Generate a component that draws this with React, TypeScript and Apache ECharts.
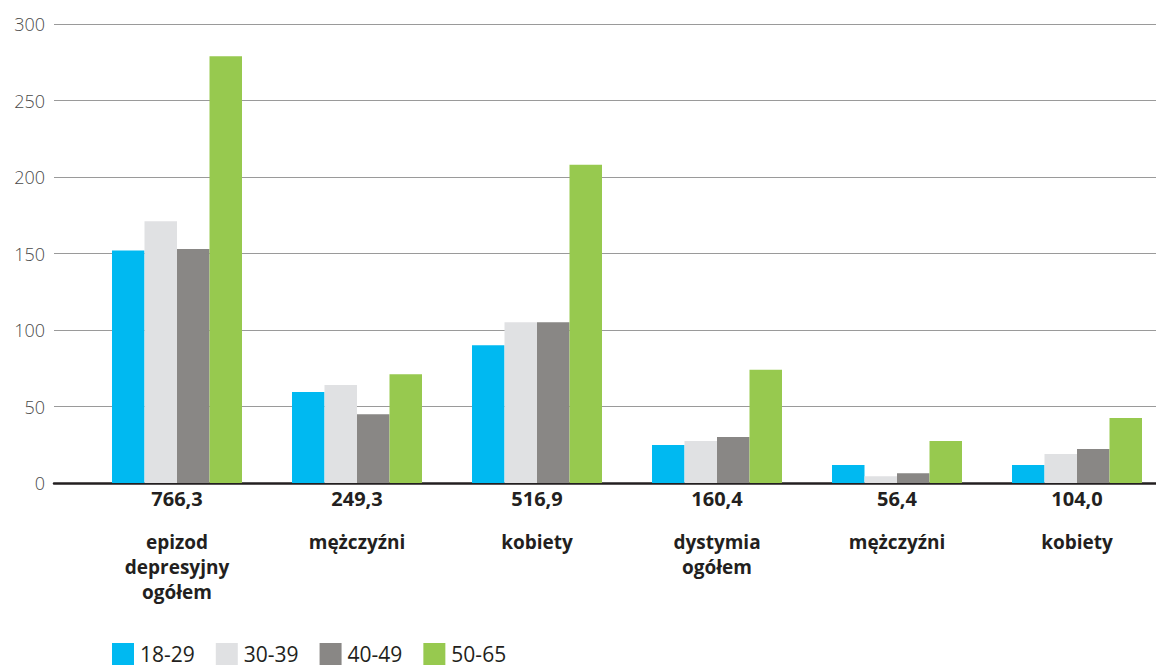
import React, { useEffect, useRef } from "react";
import * as echarts from "echarts";

const categoryTotals = ["766,3", "249,3", "516,9", "160,4", "56,4", "104,0"];
const categoryNames = [
  "epizod\ndepresyjny\nogółem",
  "mężczyźni",
  "kobiety",
  "dystymia\nogółem",
  "mężczyźni",
  "kobiety",
];
const seriesNames = ["18-29", "30-39", "40-49", "50-65"];
const values1829 = [152, 59.5, 90, 24.8, 11.8, 11.8];
const values3039 = [171, 64, 105, 27.5, 4.4, 19];
const values4049 = [153, 45, 105, 30, 6.3, 22.2];
const values5065 = [279, 71, 208, 74, 27.5, 42.5];
const yTicks = { min: 0, max: 300, interval: 50 };
const colors = ["#00B9F1", "#E0E1E3", "#898785", "#97C94F"];

export default function App() {
  const ref = useRef<HTMLDivElement>(null);
  useEffect(() => {
    document.body.style.overflow = "hidden";
    if (!ref.current) return;
    const chart = echarts.init(ref.current, undefined, { renderer: "svg" });
    const labels = categoryTotals.map((t, i) => {
      const lines = categoryNames[i].split("\n").map((l) => `{n|${l}}`).join("\n");
      return `{v|${t}}\n{s| }\n${lines}`;
    });
    const allValues = [values1829, values3039, values4049, values5065];
    chart.setOption({
      animation: false,
      backgroundColor: "#ffffff",
      textStyle: { fontFamily: "Open Sans" },
      legend: {
        left: 112,
        top: 643,
        padding: 0,
        itemWidth: 22,
        itemHeight: 22,
        itemGap: 21,
        icon: "rect",
        textStyle: { fontSize: 21, lineHeight: 21, color: "#231F20", fontFamily: "Open Sans", padding: [0, 0, 0, 1] },
        data: seriesNames,
      },
      grid: [
        { left: 54, width: 1102, top: 24, height: 459 },
        { left: 87, width: 1080, top: 24, height: 459 },
      ],
      xAxis: [
        {
          gridIndex: 0,
          type: "value",
          min: 0,
          max: 1,
          axisLine: { show: true, lineStyle: { color: "#231F20", width: 2.5 } },
          axisTick: { show: false },
          axisLabel: { show: false },
          splitLine: { show: false },
        },
        {
          gridIndex: 1,
          type: "category",
          data: labels,
          axisLine: { show: false },
          axisTick: { show: false },
          axisLabel: {
            margin: 5,
            interval: 0,
            color: "#231F20",
            rich: {
              v: { fontSize: 20, fontWeight: "bold", lineHeight: 20, color: "#231F20", fontFamily: "Open Sans" },
              s: { fontSize: 10, lineHeight: 21 },
              n: { fontSize: 19, fontWeight: "bold", lineHeight: 25, color: "#231F20", fontFamily: "Open Sans" },
            },
          },
        },
      ],
      yAxis: [
        {
          gridIndex: 0,
          type: "value",
          min: yTicks.min,
          max: yTicks.max,
          interval: yTicks.interval,
          axisLine: { show: false },
          axisTick: { show: false },
          axisLabel: { margin: 9, fontSize: 18, color: "#4a4a4a", fontWeight: "lighter", fontFamily: "Open Sans" },
          splitLine: { show: true, lineStyle: { color: "#9a9a9a", width: 1 } },
        },
        {
          gridIndex: 1,
          type: "value",
          min: yTicks.min,
          max: yTicks.max,
          interval: yTicks.interval,
          show: false,
          splitLine: { show: false },
        },
      ],
      series: seriesNames.map((name, i) => ({
        name,
        type: "bar",
        xAxisIndex: 1,
        yAxisIndex: 1,
        barWidth: 32.5,
        barGap: "0%",
        itemStyle: { color: colors[i] },
        data: allValues[i],
      })),
    });
    return () => chart.dispose();
  }, []);
  return (
    <div
      ref={ref}
      style={{ position: "fixed", left: 0, top: 0, width: 1180, height: 667 }}
    />
  );
}
